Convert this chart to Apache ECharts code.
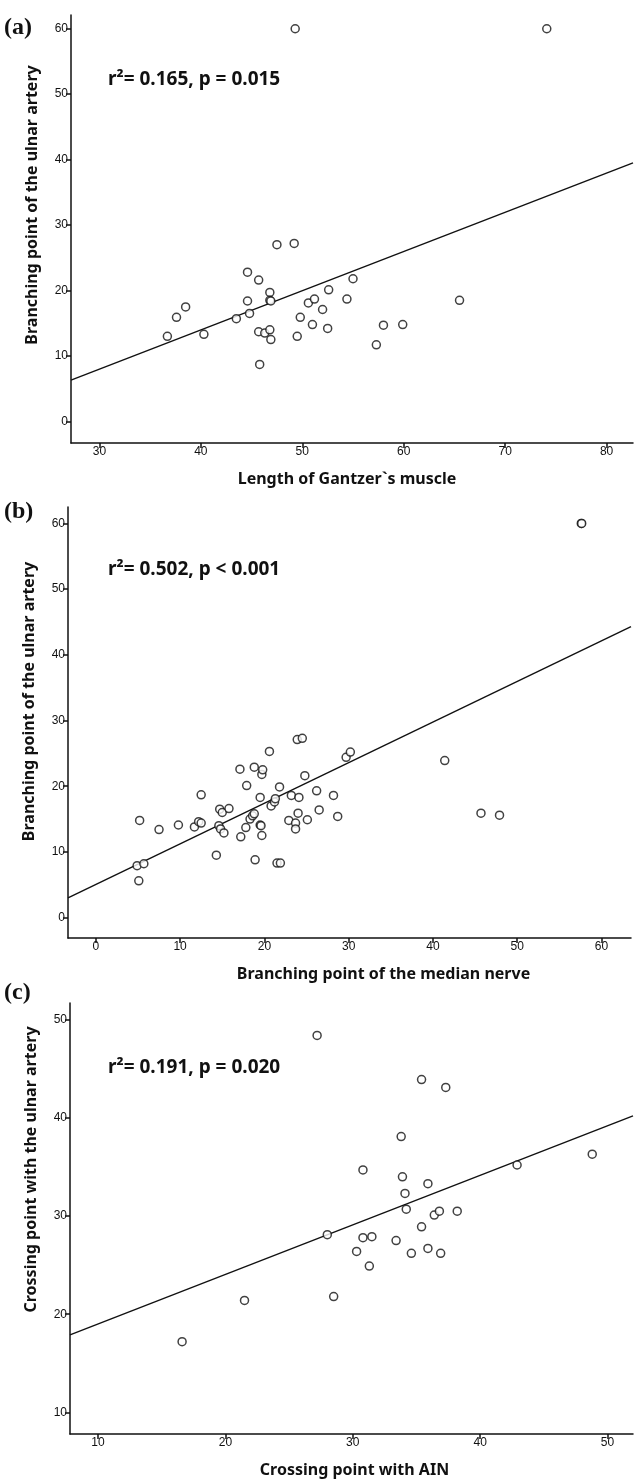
<!DOCTYPE html>
<html>
<head>
<meta charset="utf-8">
<script src="https://cdn.jsdelivr.net/npm/echarts@6.0.0/dist/echarts.min.js"></script>
<style>
html, body { margin: 0; padding: 0; background: #fff; }
#chart { width: 636px; height: 1479px; }
</style>
</head>
<body>
<div id="chart"></div>
<script>
// (a) length of Gantzer's muscle vs branching point of the ulnar artery
const gantzerLen = [36.7, 37.6, 38.5, 40.3, 43.5, 44.6, 44.6, 44.8, 45.7, 45.7, 46.3, 45.8, 46.8, 46.8, 46.9, 46.8, 46.9, 47.5, 49.2, 49.5, 49.8, 50.6, 51.0, 51.2, 52.0, 52.5, 52.6, 54.4, 55.0, 57.3, 58.0, 59.9, 65.5, 49.3, 74.1];
const ulnarA = [13.0, 15.9, 17.5, 13.3, 15.7, 22.8, 18.4, 16.5, 21.6, 13.7, 13.5, 8.7, 19.7, 18.5, 18.4, 14.0, 12.5, 27.0, 27.2, 13.0, 15.9, 18.1, 14.8, 18.7, 17.1, 14.2, 20.1, 18.7, 21.8, 11.7, 14.7, 14.8, 18.5, 60, 60];
const fitA = [[27.2, 6.3], [82.6, 39.5]];

// (b) branching point of the median nerve vs branching point of the ulnar artery
const medianBranch = [4.9, 5.7, 5.1, 5.2, 7.5, 9.8, 11.7, 12.2, 12.5, 12.5, 14.3, 14.6, 14.7, 14.8, 15.0, 15.2, 15.8, 17.1, 17.2, 17.8, 17.9, 18.3, 18.6, 18.8, 18.8, 18.9, 19.5, 19.5, 19.6, 19.7, 19.8, 19.7, 20.6, 20.8, 21.2, 21.3, 21.5, 21.9, 21.8, 22.9, 23.2, 23.7, 23.7, 23.9, 24.0, 24.1, 24.5, 24.8, 25.1, 26.2, 26.5, 28.2, 28.7, 29.7, 30.2, 41.4, 45.7, 47.9, 57.6, 57.65];
const ulnarB = [7.9, 8.2, 5.6, 14.8, 13.4, 14.1, 13.8, 14.6, 14.4, 18.7, 9.5, 14.0, 16.5, 13.5, 16.0, 12.9, 16.6, 22.6, 12.3, 13.7, 20.1, 15.0, 15.5, 15.8, 22.9, 8.8, 14.1, 18.3, 14.0, 21.8, 22.5, 12.5, 25.3, 17.0, 17.6, 18.1, 8.3, 8.3, 19.9, 14.8, 18.6, 14.4, 13.5, 27.1, 15.9, 18.3, 27.3, 21.6, 14.9, 19.3, 16.4, 18.6, 15.4, 24.4, 25.2, 23.9, 15.9, 15.6, 60, 60];
const fitB = [[-3.3, 3.0], [63.5, 44.3]];

// (c) crossing point with AIN vs crossing point with the ulnar artery
const ainCross = [27.2, 35.4, 37.3, 33.8, 30.8, 33.9, 35.9, 42.9, 48.8, 34.1, 34.2, 36.4, 36.8, 38.2, 35.4, 28.0, 30.8, 31.5, 33.4, 30.3, 34.6, 35.9, 36.9, 31.3, 28.5, 21.5, 16.6];
const ulnarCross = [48.4, 43.9, 43.1, 38.1, 34.7, 34.0, 33.3, 35.2, 36.3, 32.3, 30.7, 30.1, 30.5, 30.5, 28.9, 28.1, 27.8, 27.9, 27.5, 26.4, 26.2, 26.7, 26.2, 24.9, 21.8, 21.4, 17.2];
const fitC = [[7.8, 17.9], [52.0, 40.2]];

const ticksA = { x: [30, 40, 50, 60, 70, 80], y: [0, 10, 20, 30, 40, 50, 60] };
const ticksB = { x: [0, 10, 20, 30, 40, 50, 60], y: [0, 10, 20, 30, 40, 50, 60] };
const ticksC = { x: [10, 20, 30, 40, 50], y: [10, 20, 30, 40, 50] };

const statsText = ['r\u00b2= 0.165, p = 0.015', 'r\u00b2= 0.502, p < 0.001', 'r\u00b2= 0.191, p = 0.020'];
const panelTags = ['(a)', '(b)', '(c)'];

const nameFont = "'Noto Sans', 'Open Sans', sans-serif";
const tickFont = "'Liberation Sans Narrow', 'Arial Narrow', 'Liberation Sans', sans-serif";

function zip(xs, ys) {
    return xs.map((x, i) => [x, ys[i]]);
}

// xPad / yPad nudge the axis titles off-centre like the original figure
const panels = [
    { grid: { left: 71, top: 15, width: 562, height: 428 }, xr: [27.2, 82.6], yr: [-3.3, 62.1], ticks: ticksA,
      xName: 'Length of Gantzer`s muscle', yName: 'Branching point of the ulnar artery', pts: zip(gantzerLen, ulnarA), fit: fitA,
      xPad: [0, 10, 0, 0], yPad: [0, 0, 0, 48] },
    { grid: { left: 68, top: 507, width: 563, height: 431 }, xr: [-3.3, 63.5], yr: [-3.1, 62.5], ticks: ticksB,
      xName: 'Branching point of the median nerve', yName: 'Branching point of the ulnar artery', pts: zip(medianBranch, ulnarB), fit: fitB,
      xPad: [0, 0, 0, 68], yPad: [0, 0, 0, 42] },
    { grid: { left: 70, top: 1003, width: 563, height: 432 }, xr: [7.8, 52.0], yr: [7.8, 51.7], ticks: ticksC,
      xName: 'Crossing point with AIN', yName: 'Crossing point with the ulnar artery', pts: zip(ainCross, ulnarCross), fit: fitC,
      xPad: [0, 0, 0, 6], yPad: [0, 0, 0, 98] }
];

const tagTops = [16, 500, 981];
const statTops = [70, 560, 1058];

const axisLine = { show: true, onZero: false, lineStyle: { color: '#111', width: 1.5 } };
const axisTick = (vals) => ({ show: true, length: 5, lineStyle: { color: '#111', width: 1.5 }, customValues: vals });
const axisLabel = (vals) => ({ customValues: vals, color: '#111', fontFamily: tickFont, fontSize: 12, margin: 3 });

const option = {
    animation: false,
    backgroundColor: '#fff',
    title: [],
    grid: [],
    xAxis: [],
    yAxis: [],
    series: []
};

panels.forEach((p, i) => {
    option.grid.push(p.grid);
    option.xAxis.push({
        type: 'value', gridIndex: i, min: p.xr[0], max: p.xr[1],
        axisLine, axisTick: axisTick(p.ticks.x), axisLabel: axisLabel(p.ticks.x),
        splitLine: { show: false },
        name: p.xName, nameLocation: 'middle', nameGap: 28,
        nameTextStyle: { fontFamily: nameFont, fontWeight: 'bold', fontSize: 16, color: '#111', padding: p.xPad }
    });
    option.yAxis.push({
        type: 'value', gridIndex: i, min: p.yr[0], max: p.yr[1],
        axisLine, axisTick: axisTick(p.ticks.y), axisLabel: axisLabel(p.ticks.y),
        splitLine: { show: false },
        name: p.yName, nameLocation: 'middle', nameGap: 31,
        nameTextStyle: { fontFamily: nameFont, fontWeight: 'bold', fontSize: 16, color: '#111', padding: p.yPad }
    });
    option.series.push({
        type: 'line', xAxisIndex: i, yAxisIndex: i, data: p.fit,
        showSymbol: false, symbol: 'none', lineStyle: { color: '#111', width: 1.4 }, z: 2
    });
    option.series.push({
        type: 'scatter', xAxisIndex: i, yAxisIndex: i, data: p.pts,
        symbol: 'circle', symbolSize: 8,
        itemStyle: { color: '#fff', borderColor: '#111', borderWidth: 1.5 }, z: 3
    });
    option.title.push({
        text: panelTags[i], left: 4, top: tagTops[i], padding: 0,
        textStyle: { fontFamily: "'Liberation Serif', serif", fontWeight: 'bold', fontSize: 24, color: '#111' }
    });
    option.title.push({
        text: statsText[i], left: 108, top: statTops[i], padding: 0,
        textStyle: { fontFamily: nameFont, fontWeight: 'bold', fontSize: 19, color: '#111' }
    });
});

const chart = echarts.init(document.getElementById('chart'), null, { renderer: 'canvas' });
chart.setOption(option);
</script>
</body>
</html>
